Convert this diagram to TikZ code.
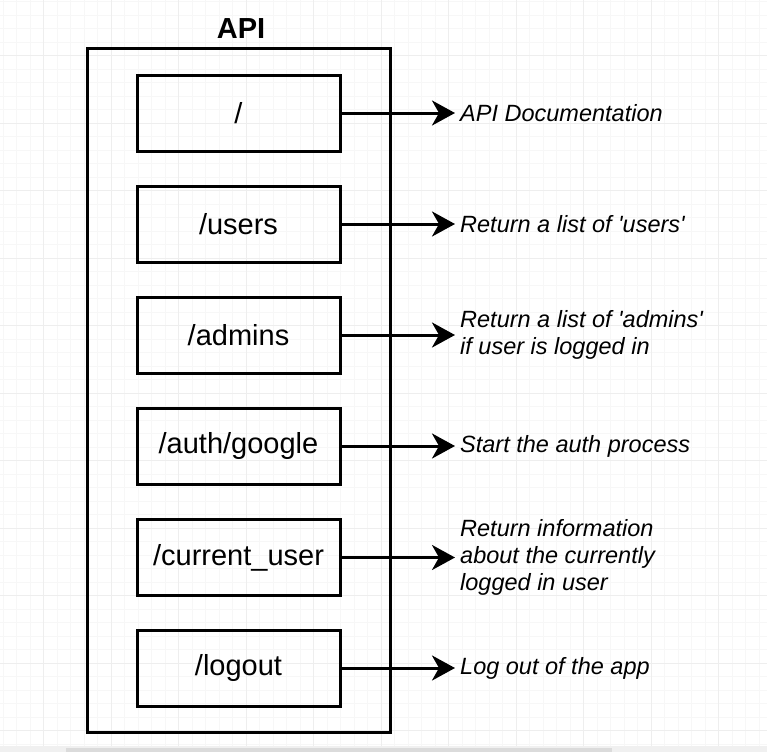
\documentclass[tikz,border=0pt]{standalone}
\usepackage{fontspec}
\setmainfont{Liberation Sans}
\usetikzlibrary{arrows.meta}
\definecolor{gridminor}{HTML}{F7F7F7}
\definecolor{gridmajor}{HTML}{EEEEEE}
\begin{document}
\begin{tikzpicture}[x=1pt, y=-1pt,
    route/.style={draw=black, line width=3pt, minimum width=203pt, minimum height=76pt, inner sep=0pt, font=\fontsize{29}{33}\selectfont},
    desc/.style={anchor=west, inner sep=0pt, align=left, font=\fontsize{23.5}{27}\selectfont\itshape},
    link/.style={line width=3pt, -{Stealth[length=23pt, width=25pt, inset=7pt]}, shorten >=5pt}]
    \useasboundingbox (0,0) rectangle (767,752);
    % background grid
    \foreach \i in {0,...,56} \draw[gridminor, line width=0.5pt] (3+13.5*\i,0) -- (3+13.5*\i,746);
    \foreach \i in {0,...,55} \draw[gridminor, line width=0.5pt] (0,1.5+13.5*\i) -- (767,1.5+13.5*\i);
    \foreach \i in {0,...,10} \draw[gridmajor, line width=0.7pt] (43.5+67.5*\i,0) -- (43.5+67.5*\i,746);
    \foreach \i in {0,...,10} \draw[gridmajor, line width=0.7pt] (0,55.5+67.5*\i) -- (767,55.5+67.5*\i);
    \fill[black!6] (0,746) rectangle (767,752);
    \fill[black!14] (66,748) rectangle (612,752);

    \node[draw=black, line width=3pt, minimum width=303pt, minimum height=683pt, inner sep=0pt] (api) at (238.5,390.5) {};
    \node[anchor=base, font=\fontsize{29}{33}\selectfont\bfseries] (apititle) at (241,38) {API};

    \node[route] (root) at (238.5,113) {/};
    \node[route] (users) at (238.5,224) {/users};
    \node[route] (admins) at (238.5,335) {/admins};
    \node[route] (google) at (238.5,446) {/auth/google};
    \node[route] (current) at (238.5,557.5) {/current\_user};
    \node[route] (logout) at (238.5,668) {/logout};

    \node[desc] (docs) at (460,113) {API Documentation};
    \node[desc] (userlist) at (460,224) {Return a list of \textquotesingle users\textquotesingle};
    \node[desc] (adminlist) at (460,335) {Return a list of \textquotesingle admins\textquotesingle\\if user is logged in};
    \node[desc] (authstart) at (460,446) {Start the auth process};
    \node[desc] (userinfo) at (460,557.5) {Return information\\about the currently\\logged in user};
    \node[desc] (logoutapp) at (460,668) {Log out of the app};

    \draw[link] (root.east) -- (docs.west);
    \draw[link] (users.east) -- (userlist.west);
    \draw[link] (admins.east) -- (adminlist.west);
    \draw[link] (google.east) -- (authstart.west);
    \draw[link] (current.east) -- (userinfo.west);
    \draw[link] (logout.east) -- (logoutapp.west);
\end{tikzpicture}
\end{document}
